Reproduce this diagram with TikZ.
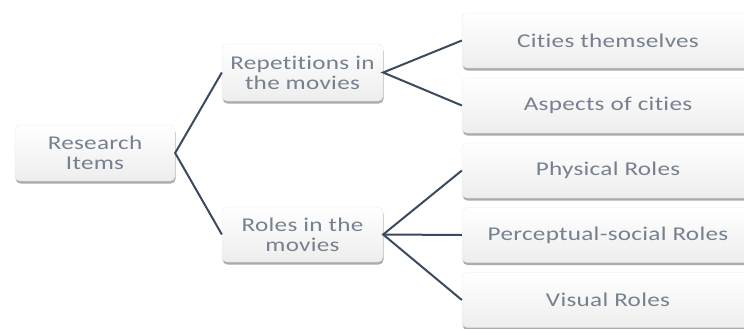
\documentclass[tikz,border=0pt]{standalone}
\usepackage{fontspec}
\setmainfont[FakeStretch=1.29,Ligatures={NoCommon,NoRare},LetterSpace=1.5]{Carlito}
\usetikzlibrary{shadows}
\definecolor{linec}{HTML}{3B4A5E}
\definecolor{textc}{HTML}{76818F}
\tikzset{
  box/.style={draw=gray!20, line width=0.3pt, rounded corners=5pt,
    top color=white, bottom color=gray!14,
    drop shadow={shadow xshift=0.6pt, shadow yshift=-2.6pt, opacity=0.5, fill=black!65},
    text=textc, align=center, inner sep=0pt,
    font=\fontsize{19.5}{20}\selectfont},
  conn/.style={draw=linec, line width=2pt}
}
\begin{document}
\begin{tikzpicture}[x=1pt,y=-1pt]
\useasboundingbox (0,0) rectangle (744,329);
\clip (0,0) rectangle (744,329);
\node[box, minimum width=160pt, minimum height=56pt] (ri) at (95,153) {Research\\Items};
\node[box, minimum width=161pt, minimum height=57pt] (rep) at (302.5,72.5) {Repetitions in\\the movies};
\node[box, minimum width=161pt, minimum height=55pt] (rol) at (302.5,234.5) {Roles in the\\movies};
\node[box, minimum width=292pt, minimum height=55pt] (c1) at (608,40.5) {Cities themselves};
\node[box, minimum width=292pt, minimum height=55pt] (c2) at (608,105.5) {Aspects of cities};
\node[box, minimum width=292pt, minimum height=55pt] (p1) at (608,170.5) {Physical Roles};
\node[box, minimum width=292pt, minimum height=55pt] (p2) at (608,235) {Perceptual-social Roles};
\node[box, minimum width=292pt, minimum height=55pt] (p3) at (608,300) {Visual Roles};
\draw[conn] (rep.west) -- (ri.east) -- (rol.west);
\draw[conn] (c1.west) -- (rep.east) -- (c2.west);
\draw[conn] (p1.west) -- (rol.east) -- (p3.west);
\draw[conn] (rol.east) -- (p2.west);
\end{tikzpicture}
\end{document}
